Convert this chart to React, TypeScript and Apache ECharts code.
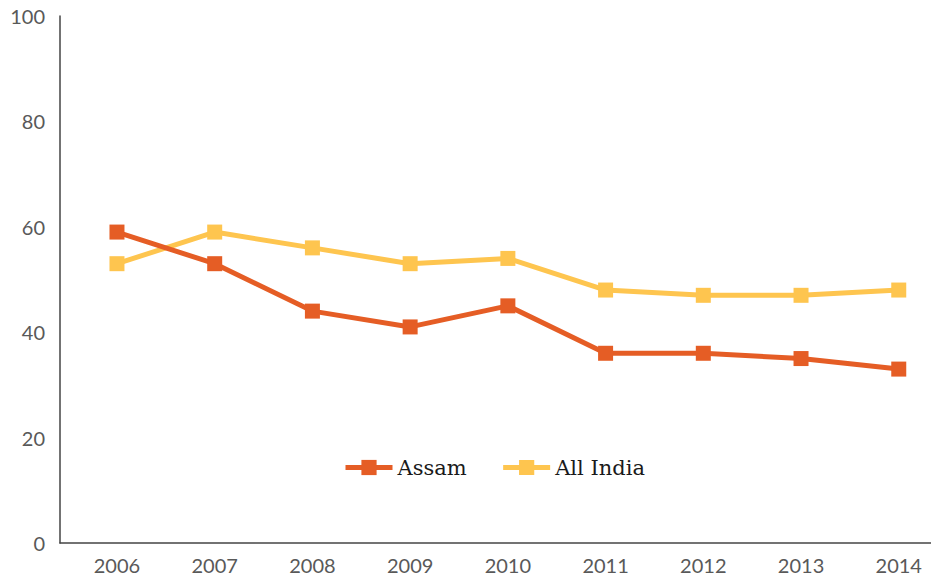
import React, { useEffect, useRef } from "react";
import * as echarts from "echarts";

const years = [2006, 2007, 2008, 2009, 2010, 2011, 2012, 2013, 2014];
const assam = [59, 53, 44, 41, 45, 36, 36, 35, 33];
const allIndia = [53, 59, 56, 53, 54, 48, 47, 47, 48];
const yTicks = [0, 20, 40, 60, 80, 100];

export default function App() {
  const ref = useRef<HTMLDivElement>(null);
  useEffect(() => {
    if (!ref.current) return;
    const chart = echarts.init(ref.current, null, { renderer: "svg" });
    const labelStyle = { color: "#595959", fontFamily: "Lato", fontSize: 20 };
    chart.setOption({
      animation: false,
      grid: { left: 60, right: 0, top: 16, bottom: 34 },
      legend: {
        left: 338,
        top: 452,
        itemWidth: 47,
        itemHeight: 19,
        itemGap: 34,
        data: ["Assam", "All India"],
        lineStyle: { width: 5 },
        textStyle: { fontFamily: "DejaVu Serif", fontSize: 21, color: "#1a1a1a" },
      },
      xAxis: {
        type: "value",
        min: 2005.417,
        max: 2014.33,
        splitLine: { show: false },
        axisTick: { show: false },
        axisLine: { show: true, lineStyle: { color: "#444", width: 1.5 } },
        axisLabel: {
          ...labelStyle,
          margin: 14,
          lineHeight: 16,
          customValues: years,
          formatter: (v: number) => String(Math.round(v)),
        },
      },
      yAxis: {
        type: "value",
        min: 0,
        max: 100,
        interval: 20,
        splitLine: { show: false },
        axisTick: { show: false },
        axisLine: { show: true, lineStyle: { color: "#444", width: 1.5 } },
        axisLabel: { ...labelStyle, margin: 15, customValues: yTicks },
      },
      series: [
        {
          name: "All India",
          type: "line",
          data: years.map((y, i) => [y, allIndia[i]]),
          symbol: "rect",
          symbolSize: 15,
          color: "#FEC54F",
          lineStyle: { width: 5, color: "#FEC54F" },
          itemStyle: { color: "#FEC54F" },
          z: 2,
        },
        {
          name: "Assam",
          type: "line",
          data: years.map((y, i) => [y, assam[i]]),
          symbol: "rect",
          symbolSize: 15,
          color: "#E55D25",
          lineStyle: { width: 5, color: "#E55D25" },
          itemStyle: { color: "#E55D25" },
          z: 3,
        },
      ],
    });
    return () => chart.dispose();
  }, []);
  return <div ref={ref} style={{ width: 931, height: 577, position: "absolute", left: 0, top: 0 }} />;
}
